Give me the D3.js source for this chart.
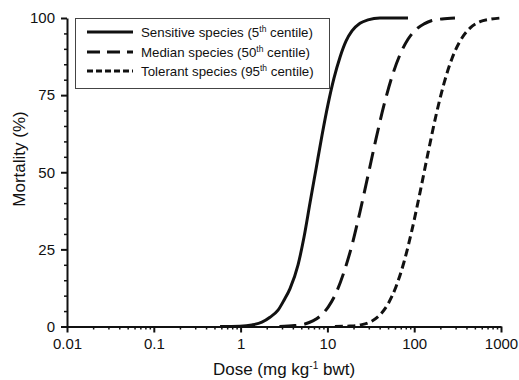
<!DOCTYPE html>
<html>
<head>
<meta charset="utf-8">
<script src="https://cdn.jsdelivr.net/npm/d3@7"></script>
<style>
  html, body { margin: 0; padding: 0; background: #fff; }
  svg { display: block; font-family: "Liberation Sans", Arial, sans-serif; }
</style>
</head>
<body>
<svg id="chart" width="519" height="380"></svg>
<script>
// ---- data ----
const xTickValues = [0.01, 0.1, 1, 10, 100, 1000];
const xTickLabels = ["0.01", "0.1", "1", "10", "100", "1000"];
const yTickValues = [0, 25, 50, 75, 100];
const yTickLabels = ["0", "25", "50", "75", "100"];

const seriesNames = ["Sensitive species (5", "Median species (50", "Tolerant species (95"];
const seriesSup = ["th", "th", "th"];
const seriesSuffix = [" centile)", " centile)", " centile)"];

const sensitiveDose = [0.58, 0.98, 1.35, 1.76, 2.18, 2.7, 3.16, 3.71, 4.59, 5.38, 6.3, 7.39, 8.67, 10.16, 11.91, 13.97, 16.38, 19.2, 23.74, 29.36, 40.36, 84.8];
const sensitiveMort = [0, 0.1, 0.5, 1.4, 3, 5.3, 8.5, 12.3, 20, 29, 40, 51, 62, 72, 80.5, 87.3, 92.5, 95.8, 98.3, 99.4, 100, 100];

const medianDose = [2.8, 4.2, 5.5, 6.8, 8.2, 10.2, 12.6, 15.5, 19.2, 23.7, 29.4, 36.3, 44.9, 55.5, 68.6, 84.8, 105, 130, 160, 209, 295];
const medianMort = [0, 0.3, 0.8, 1.8, 3.3, 6.3, 10.9, 17.6, 26.4, 37.1, 49, 60.8, 71.8, 81, 88.1, 93.1, 96.3, 98.1, 99.2, 99.7, 100];

const tolerantDose = [12.2, 18.2, 25, 32.7, 40.4, 49.9, 61.7, 76.3, 94.3, 116.6, 144.2, 178.3, 220.4, 272.6, 337, 439, 573, 747, 1000];
const tolerantMort = [0, 0.15, 0.6, 1.8, 3.8, 7.3, 12.9, 20.9, 31.3, 43.4, 56.2, 68.4, 78.8, 86.9, 92.5, 96.7, 98.8, 99.6, 100];

// ---- layout ----
const svg = d3.select("#chart");
const mLeft = 67, mRight = 501, mTop = 18, mBottom = 326.5;

const x = d3.scaleLog().domain([0.01, 1000]).range([mLeft, mRight]);
const y = d3.scaleLinear().domain([0, 100]).range([mBottom, mTop]);

const series = [
  { dose: sensitiveDose, mort: sensitiveMort, dash: null },
  { dose: medianDose, mort: medianMort, dash: "17,8" },
  { dose: tolerantDose, mort: tolerantMort, dash: "8,4.5" }
];
const legendDash = [null, "13,7", "6,3"];

const line = d3.line().x(d => x(d[0])).y(d => y(d[1])).curve(d3.curveMonotoneX);

// curves
series.forEach(s => {
  const pts = s.dose.map((d, i) => [d, s.mort[i]]);
  svg.append("path")
    .attr("d", line(pts))
    .attr("fill", "none")
    .attr("stroke", "#111")
    .attr("stroke-width", 3)
    .attr("stroke-dasharray", s.dash);
});

// x axis
const xMinor = [];
for (let e = -2; e < 3; e++) for (let m = 2; m <= 9; m++) xMinor.push(m * Math.pow(10, e));
const xAxisG = svg.append("g").attr("transform", `translate(0,${mBottom})`);
xAxisG.call(d3.axisBottom(x).tickValues(xMinor).tickSize(3).tickFormat(""))
  .call(g => g.select(".domain").remove());
xAxisG.selectAll("line").attr("stroke", "#111").attr("stroke-width", 1.5);
const xMajorG = svg.append("g").attr("transform", `translate(0,${mBottom})`);
xMajorG.call(d3.axisBottom(x).tickValues(xTickValues).tickSize(6).tickSizeOuter(0)
    .tickFormat((d, i) => xTickLabels[i]).tickPadding(6));
xMajorG.select(".domain").attr("stroke", "#111").attr("stroke-width", 2);
xMajorG.selectAll("line").attr("stroke", "#111").attr("stroke-width", 2);
xMajorG.selectAll("text").attr("font-size", 15).attr("fill", "#111")
  .attr("font-family", "Liberation Sans, Arial, sans-serif");

// y axis
const yMinor = d3.range(0, 101, 5).filter(v => v % 25 !== 0);
const yMinorG = svg.append("g").attr("transform", `translate(${mLeft},0)`);
yMinorG.call(d3.axisLeft(y).tickValues(yMinor).tickSize(3).tickFormat(""))
  .call(g => g.select(".domain").remove());
yMinorG.selectAll("line").attr("stroke", "#111").attr("stroke-width", 1.5);
const yMajorG = svg.append("g").attr("transform", `translate(${mLeft},0)`);
yMajorG.call(d3.axisLeft(y).tickValues(yTickValues).tickSize(6).tickSizeOuter(0)
    .tickFormat((d, i) => yTickLabels[i]).tickPadding(6));
yMajorG.select(".domain").attr("stroke", "#111").attr("stroke-width", 2);
yMajorG.selectAll("line").attr("stroke", "#111").attr("stroke-width", 2);
yMajorG.selectAll("text").attr("font-size", 15).attr("fill", "#111")
  .attr("font-family", "Liberation Sans, Arial, sans-serif");

// axis titles
const xt = svg.append("text").attr("x", (mLeft + mRight) / 2).attr("y", 375)
  .attr("text-anchor", "middle").attr("font-size", 17).attr("fill", "#111");
xt.append("tspan").text("Dose (mg kg");
xt.append("tspan").attr("font-size", 10).attr("dy", -6).text("-1");
xt.append("tspan").attr("dy", 6).text(" bwt)");

svg.append("text").attr("transform", "translate(25,159) rotate(-90)")
  .attr("text-anchor", "middle").attr("font-size", 17).attr("fill", "#111")
  .text("Mortality (%)");

// legend
const lg = svg.append("g");
lg.append("rect").attr("x", 75.5).attr("y", 18.5).attr("width", 254).attr("height", 70)
  .attr("fill", "#fff").attr("stroke", "#444").attr("stroke-width", 1);
const rowY = [32, 52, 71];
seriesNames.forEach((name, i) => {
  lg.append("line").attr("x1", 87).attr("x2", 133).attr("y1", rowY[i]).attr("y2", rowY[i])
    .attr("stroke", "#111").attr("stroke-width", 3).attr("stroke-dasharray", legendDash[i]);
  const t = lg.append("text").attr("x", 141).attr("y", rowY[i] + 4.7)
    .attr("font-size", 13.3).attr("fill", "#111");
  t.append("tspan").text(name);
  t.append("tspan").attr("font-size", 8.5).attr("dy", -5).text(seriesSup[i]);
  t.append("tspan").attr("dy", 5).text(seriesSuffix[i]);
});
</script>
</body>
</html>
